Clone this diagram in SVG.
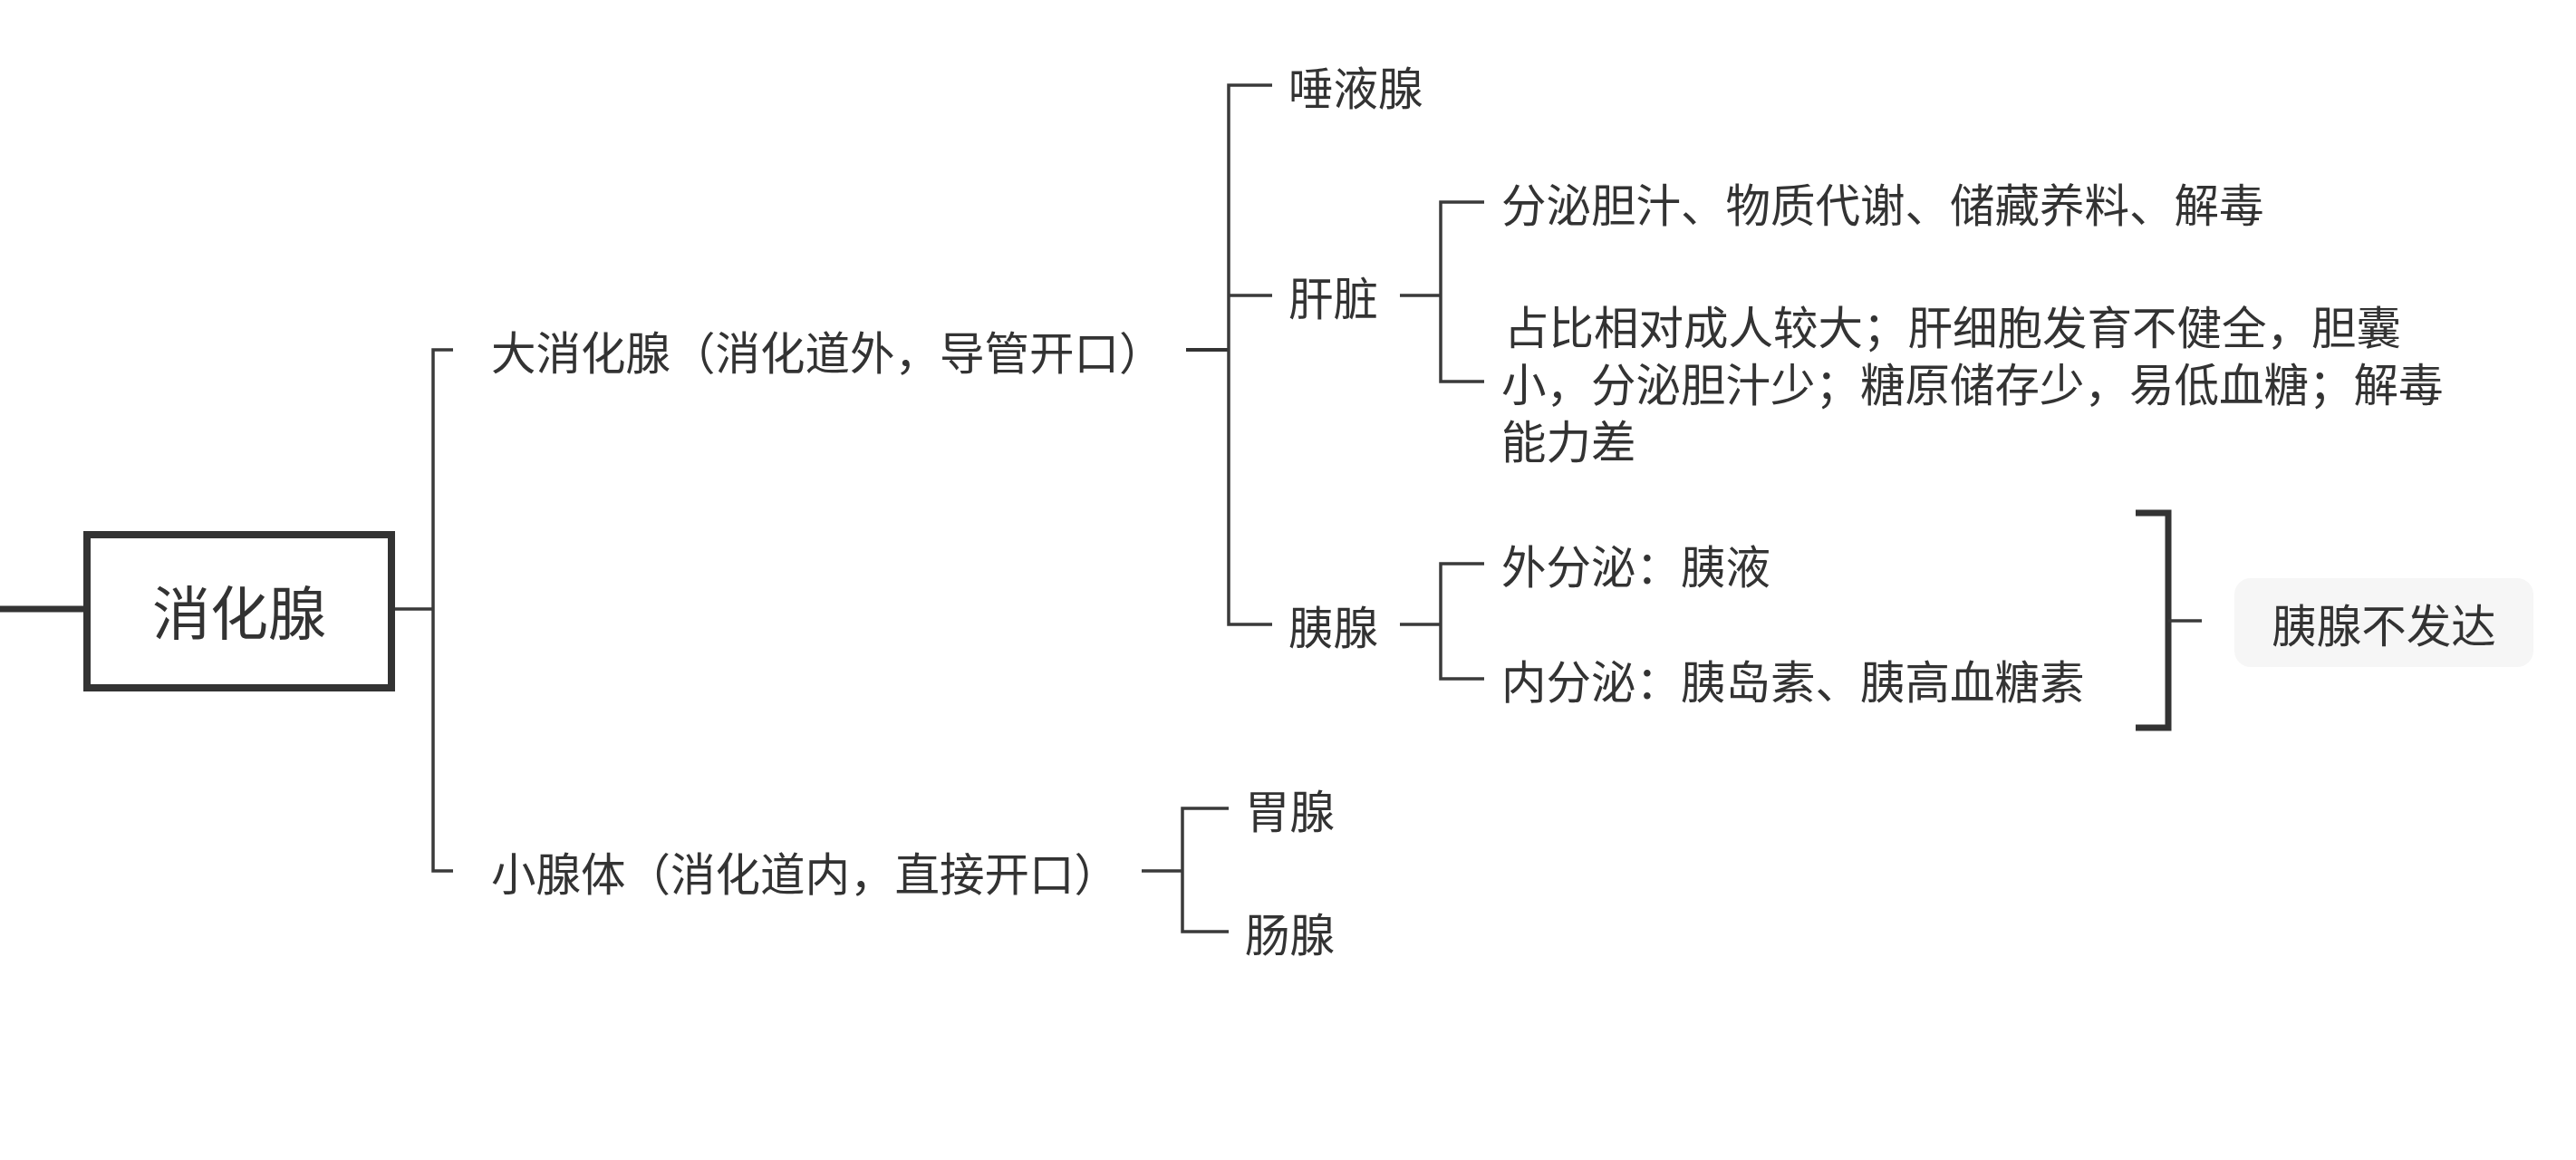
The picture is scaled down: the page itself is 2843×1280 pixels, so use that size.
<svg xmlns="http://www.w3.org/2000/svg" width="2843" height="1280" viewBox="0 0 2843 1280">
<style>
text{font-family:"Noto Sans CJK SC","Noto Sans",sans-serif;fill:#333;dominant-baseline:central}
.t{font-size:49.5px}
.root{font-size:64px}
.ln{stroke:#3a3a3a;stroke-width:3.5;fill:none}
.thick{stroke:#333;stroke-width:7;fill:none}
</style>
<rect width="2843" height="1280" fill="#fff"/>
<g id="connectors">
<line class="thick" x1="0" y1="672" x2="96" y2="672"/>
<path class="ln" d="M436 672H478M500 386H478V961H500"/>
<path class="thick" d="M1309 386H1356" style="stroke-width:4"/>
<path class="ln" d="M1404 94H1356V689H1404M1356 326H1404"/>
<path class="ln" d="M1545 326H1590M1638 223H1590V421H1638"/>
<path class="ln" d="M1545 689H1590M1638 622H1590V749H1638"/>
<path class="thick" d="M2357 566H2393V803H2357"/>
<path class="ln" d="M2393 685H2430"/>
<path class="ln" d="M1260 961H1305M1356 892H1305V1028H1356"/>
</g>
<g id="root">
<rect x="96" y="590" width="336" height="169" fill="#fff" stroke="#333" stroke-width="8"/>
<text class="root" x="264" y="672" text-anchor="middle">消化腺</text>
</g>
<g id="n-da"><text class="t" x="542" y="386">大消化腺（消化道外，导管开口）</text></g>
<g id="n-xiao"><text class="t" x="542" y="961">小腺体（消化道内，直接开口）</text></g>
<g id="n-tuoye"><text class="t" x="1422" y="94">唾液腺</text></g>
<g id="n-gan"><text class="t" x="1422" y="326">肝脏</text></g>
<g id="n-yi"><text class="t" x="1422" y="689">胰腺</text></g>
<g id="n-gan1"><text class="t" x="1657" y="223">分泌胆汁、物质代谢、储藏养料、解毒</text></g>
<g id="n-gan2">
<text class="t"><tspan x="1660" y="358">占比相对成人较大；肝细胞发育不健全，胆囊</tspan><tspan x="1657" y="421">小，分泌胆汁少；糖原储存少，易低血糖；解毒</tspan><tspan x="1657" y="484">能力差</tspan></text>
</g>
<g id="n-yi1"><text class="t" x="1657" y="622">外分泌：胰液</text></g>
<g id="n-yi2"><text class="t" x="1657" y="749">内分泌：胰岛素、胰高血糖素</text></g>
<g id="n-summary">
<rect x="2466" y="638" width="330" height="98" rx="18" fill="#f6f6f6"/>
<text class="t" x="2631" y="687" text-anchor="middle">胰腺不发达</text>
</g>
<g id="n-wei"><text class="t" x="1374" y="892">胃腺</text></g>
<g id="n-chang"><text class="t" x="1374" y="1028">肠腺</text></g>
</svg>
